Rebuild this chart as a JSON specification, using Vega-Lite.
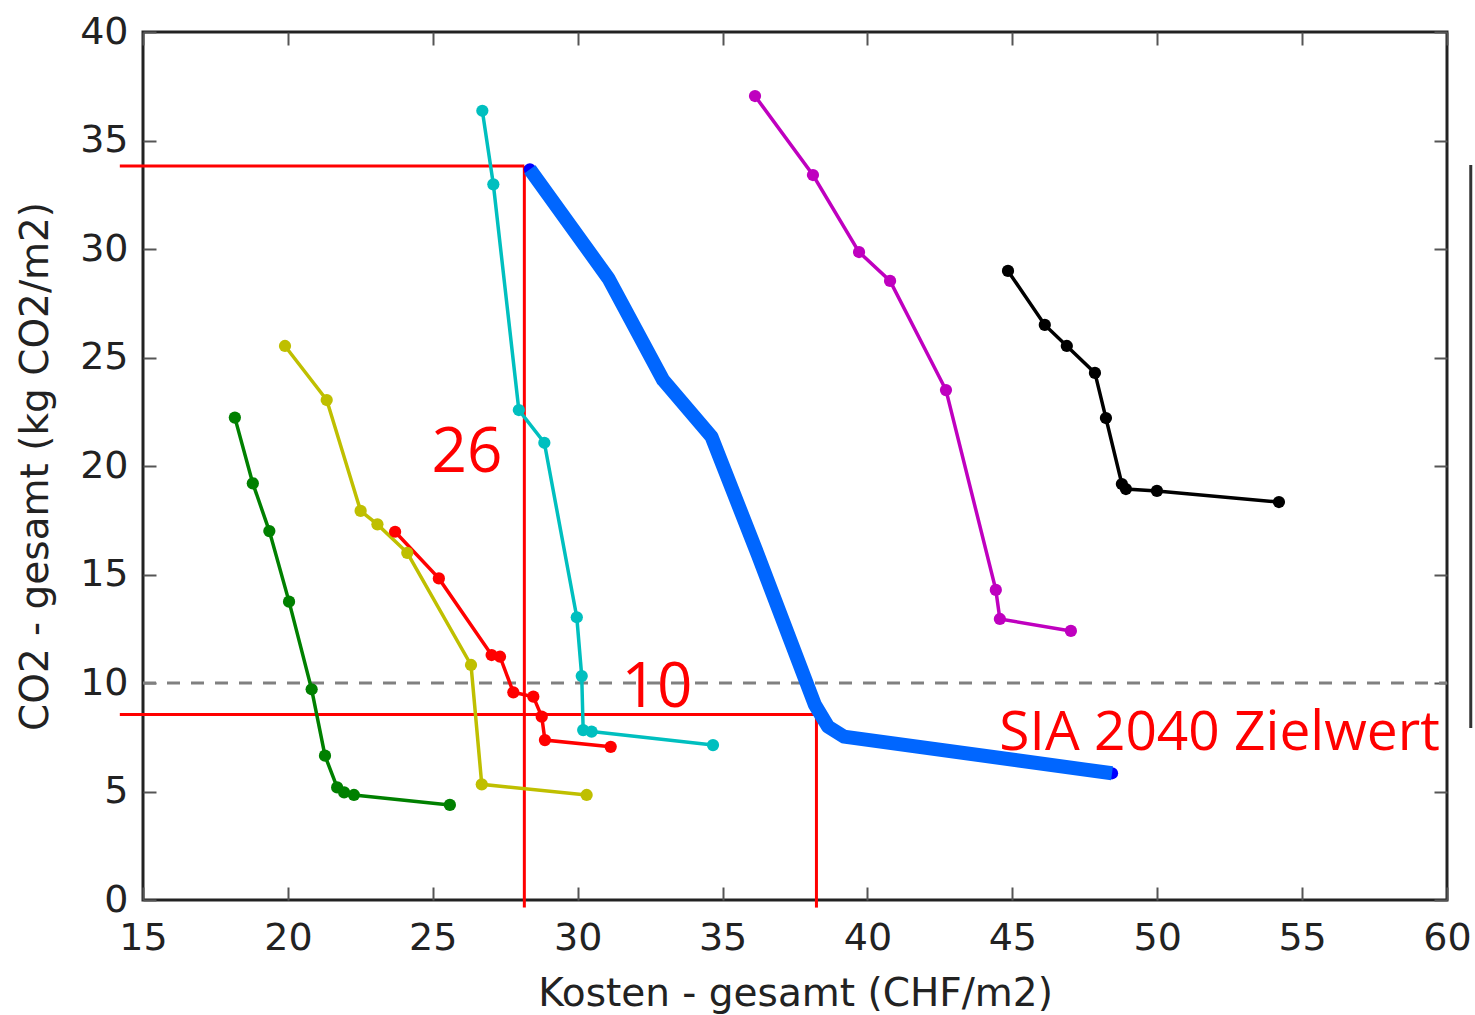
{
  "$schema": "https://vega.github.io/schema/vega-lite/v6.json",
  "width": 1304,
  "height": 868,
  "autosize": "none",
  "padding": {"left": 143, "top": 32, "right": 28, "bottom": 115},
  "background": "white",
  "config": {
    "view": {"stroke": "#222222", "strokeWidth": 3},
    "font": "DejaVu Sans",
    "axis": {
      "labelFont": "DejaVu Sans",
      "titleFont": "DejaVu Sans",
      "labelColor": "#222222",
      "titleColor": "#222222",
      "labelFontSize": 38,
      "titleFontSize": 39,
      "titleFontWeight": "normal",
      "domain": false,
      "grid": false,
      "tickColor": "#555555",
      "tickWidth": 2,
      "tickSize": -13
    }
  },
  "datasets": {
    "series": [
      {"s": "g", "o": 1, "x": 18.17, "y": 22.23},
      {"s": "g", "o": 2, "x": 18.79, "y": 19.2},
      {"s": "g", "o": 3, "x": 19.36, "y": 17.0},
      {"s": "g", "o": 4, "x": 20.04, "y": 13.75},
      {"s": "g", "o": 5, "x": 20.82, "y": 9.71},
      {"s": "g", "o": 6, "x": 21.28, "y": 6.65},
      {"s": "g", "o": 7, "x": 21.7, "y": 5.19},
      {"s": "g", "o": 8, "x": 21.94, "y": 4.96},
      {"s": "g", "o": 9, "x": 22.28, "y": 4.84},
      {"s": "g", "o": 10, "x": 25.59, "y": 4.38},
      {"s": "yl", "o": 1, "x": 19.9, "y": 25.53},
      {"s": "yl", "o": 2, "x": 21.34, "y": 23.04},
      {"s": "yl", "o": 3, "x": 22.51, "y": 17.93},
      {"s": "yl", "o": 4, "x": 23.09, "y": 17.31},
      {"s": "yl", "o": 5, "x": 24.12, "y": 16.0},
      {"s": "yl", "o": 6, "x": 26.32, "y": 10.83},
      {"s": "yl", "o": 7, "x": 26.69, "y": 5.33},
      {"s": "yl", "o": 8, "x": 30.31, "y": 4.84},
      {"s": "r", "o": 1, "x": 23.7, "y": 16.97},
      {"s": "r", "o": 2, "x": 25.21, "y": 14.82},
      {"s": "r", "o": 3, "x": 27.03, "y": 11.29},
      {"s": "r", "o": 4, "x": 27.32, "y": 11.21},
      {"s": "r", "o": 5, "x": 27.78, "y": 9.57},
      {"s": "r", "o": 6, "x": 28.47, "y": 9.37},
      {"s": "r", "o": 7, "x": 28.76, "y": 8.45},
      {"s": "r", "o": 8, "x": 28.87, "y": 7.37},
      {"s": "r", "o": 9, "x": 31.14, "y": 7.06},
      {"s": "c", "o": 1, "x": 26.71, "y": 36.37},
      {"s": "c", "o": 2, "x": 27.09, "y": 32.98},
      {"s": "c", "o": 3, "x": 27.97, "y": 22.58},
      {"s": "c", "o": 4, "x": 28.85, "y": 21.07},
      {"s": "c", "o": 5, "x": 29.97, "y": 13.03},
      {"s": "c", "o": 6, "x": 30.14, "y": 10.32},
      {"s": "c", "o": 7, "x": 30.19, "y": 7.83},
      {"s": "c", "o": 8, "x": 30.48, "y": 7.76},
      {"s": "c", "o": 9, "x": 34.67, "y": 7.14},
      {"s": "m", "o": 1, "x": 36.12, "y": 37.05},
      {"s": "m", "o": 2, "x": 38.12, "y": 33.41},
      {"s": "m", "o": 3, "x": 39.71, "y": 29.86},
      {"s": "m", "o": 4, "x": 40.78, "y": 28.53},
      {"s": "m", "o": 5, "x": 42.71, "y": 23.5},
      {"s": "m", "o": 6, "x": 44.43, "y": 14.29},
      {"s": "m", "o": 7, "x": 44.57, "y": 12.95},
      {"s": "m", "o": 8, "x": 47.02, "y": 12.4},
      {"s": "k", "o": 1, "x": 44.85, "y": 28.99},
      {"s": "k", "o": 2, "x": 46.12, "y": 26.5},
      {"s": "k", "o": 3, "x": 46.88, "y": 25.53},
      {"s": "k", "o": 4, "x": 47.85, "y": 24.29},
      {"s": "k", "o": 5, "x": 48.23, "y": 22.21},
      {"s": "k", "o": 6, "x": 48.78, "y": 19.17},
      {"s": "k", "o": 7, "x": 48.92, "y": 18.94},
      {"s": "k", "o": 8, "x": 49.99, "y": 18.85},
      {"s": "k", "o": 9, "x": 54.2, "y": 18.34}
    ],
    "front": [
      {"o": 1, "x": 28.35, "y": 33.67},
      {"o": 2, "x": 31.06, "y": 28.65},
      {"o": 3, "x": 32.95, "y": 23.96},
      {"o": 4, "x": 34.62, "y": 21.35},
      {"o": 5, "x": 36.22, "y": 15.9},
      {"o": 6, "x": 38.19, "y": 8.99},
      {"o": 7, "x": 38.64, "y": 7.99},
      {"o": 8, "x": 39.19, "y": 7.53},
      {"o": 9, "x": 48.44, "y": 5.84}
    ],
    "redlines": [
      {"x": 14.2, "x2": 28.16, "y": 33.82, "y2": 33.82},
      {"x": 28.16, "x2": 28.16, "y": -0.35, "y2": 33.82},
      {"x": 14.2, "x2": 38.24, "y": 8.55, "y2": 8.55},
      {"x": 38.24, "x2": 38.24, "y": -0.35, "y2": 8.55}
    ],
    "labels": [
      {"t": "26", "x": 26.18, "y": 20.6},
      {"t": "10", "x": 32.74, "y": 9.77}
    ],
    "target": [
      {"t": "SIA 2040 Zielwert", "x": 59.75, "y": 7.7}
    ]
  },
  "layer": [
    {
      "data": {"name": "redlines"},
      "mark": {"type": "rule", "color": "#ff0000", "strokeWidth": 3},
      "encoding": {
        "x": {"field": "x", "type": "quantitative", "scale": {"domain": [15, 60], "nice": false, "zero": false},
              "axis": {"orient": "bottom", "title": "Kosten - gesamt (CHF/m2)", "values": [15, 20, 25, 30, 35, 40, 45, 50, 55, 60], "labelPadding": 32, "titlePadding": 17, "labelFlush": false}},
        "x2": {"field": "x2"},
        "y": {"field": "y", "type": "quantitative", "scale": {"domain": [0, 40], "nice": false, "zero": false},
              "axis": {"orient": "left", "title": "CO2 - gesamt (kg CO2/m2)", "values": [0, 5, 10, 15, 20, 25, 30, 35, 40], "labelPadding": 28, "titlePadding": 24, "labelFlush": false}},
        "y2": {"field": "y2"}
      }
    },
    {
      "data": {"values": [{"y": 10, "x": 15, "x2": 60}]},
      "mark": {"type": "rule", "color": "#808080", "strokeWidth": 3, "strokeDash": [13, 11]},
      "encoding": {
        "x": {"field": "x", "type": "quantitative", "axis": null},
        "x2": {"field": "x2"},
        "y": {"field": "y", "type": "quantitative", "axis": null}
      }
    },
    {
      "data": {"name": "series"},
      "mark": {"type": "line", "strokeWidth": 3.5, "point": {"filled": true, "size": 150, "opacity": 1}},
      "encoding": {
        "x": {"field": "x", "type": "quantitative", "axis": null},
        "y": {"field": "y", "type": "quantitative", "axis": null},
        "order": {"field": "o"},
        "color": {"field": "s", "type": "nominal", "legend": null,
                  "scale": {"domain": ["g", "yl", "r", "c", "m", "k"], "range": ["#008000", "#bfbf00", "#ff0000", "#00bfbf", "#bf00bf", "#000000"]}}
      }
    },
    {
      "data": {"name": "front"},
      "mark": {"type": "point", "filled": true, "size": 150, "opacity": 1, "color": "#0000ff"},
      "encoding": {
        "x": {"field": "x", "type": "quantitative", "axis": null},
        "y": {"field": "y", "type": "quantitative", "axis": null}
      }
    },
    {
      "data": {"name": "front"},
      "mark": {"type": "line", "strokeWidth": 14, "color": "#0066ff", "strokeJoin": "round", "strokeCap": "butt"},
      "encoding": {
        "x": {"field": "x", "type": "quantitative", "axis": null},
        "y": {"field": "y", "type": "quantitative", "axis": null},
        "order": {"field": "o"}
      }
    },
    {
      "data": {"name": "labels"},
      "mark": {"type": "text", "color": "#ff0000", "font": "Open Sans", "fontSize": 62, "align": "center", "baseline": "middle"},
      "encoding": {
        "x": {"field": "x", "type": "quantitative", "axis": null},
        "y": {"field": "y", "type": "quantitative", "axis": null},
        "text": {"field": "t"}
      }
    },
    {
      "data": {"name": "target"},
      "mark": {"type": "text", "color": "#ff0000", "font": "Open Sans", "fontSize": 55, "align": "right", "baseline": "middle"},
      "encoding": {
        "x": {"field": "x", "type": "quantitative", "axis": null},
        "y": {"field": "y", "type": "quantitative", "axis": null},
        "text": {"field": "t"}
      }
    },
    {
      "data": {"values": [{"x": 60.82, "y": 7.93, "y2": 33.87}]},
      "mark": {"type": "rule", "color": "#333333", "strokeWidth": 3},
      "encoding": {
        "x": {"field": "x", "type": "quantitative",
              "axis": {"orient": "top", "title": null, "labels": false, "values": [15, 20, 25, 30, 35, 40, 45, 50, 55, 60]}},
        "y": {"field": "y", "type": "quantitative",
              "axis": {"orient": "right", "title": null, "labels": false, "values": [0, 5, 10, 15, 20, 25, 30, 35, 40]}},
        "y2": {"field": "y2"}
      }
    }
  ],
  "resolve": {"axis": {"x": "independent", "y": "independent"}}
}
